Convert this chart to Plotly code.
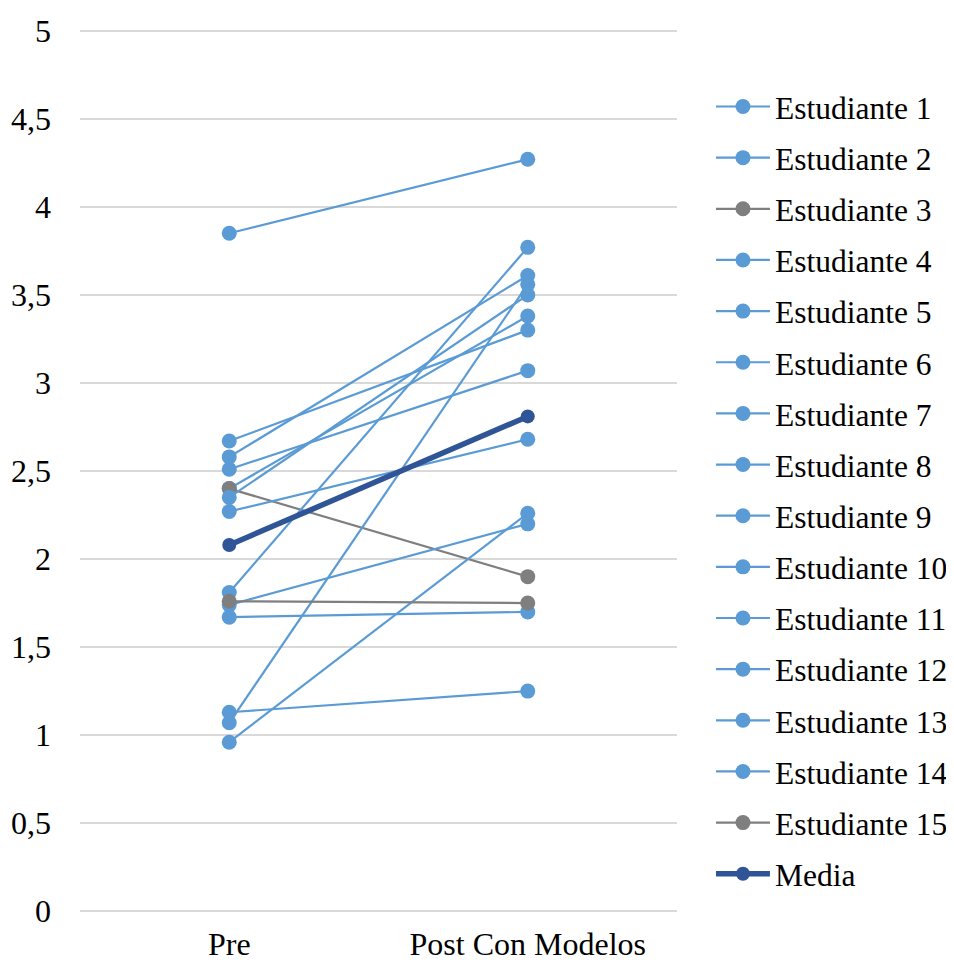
import plotly.graph_objects as go

categories = ["Pre", "Post Con Modelos"]

student_names = [f"Estudiante {i}" for i in range(1, 16)]
pre_scores = [3.85, 2.40, 2.40, 2.58, 2.67, 2.51, 2.35, 2.27, 1.81, 1.74, 1.67, 1.13, 1.07, 0.96, 1.76]
post_scores = [4.27, 3.38, 1.90, 3.61, 3.30, 3.07, 3.50, 2.68, 3.77, 2.20, 1.70, 1.25, 3.56, 2.26, 1.75]
student_colors = ["#5B9BD5", "#5B9BD5", "#7F7F7F", "#5B9BD5", "#5B9BD5", "#5B9BD5", "#5B9BD5",
                  "#5B9BD5", "#5B9BD5", "#5B9BD5", "#5B9BD5", "#5B9BD5", "#5B9BD5", "#5B9BD5", "#7F7F7F"]

media_name = "Media"
media_scores = [2.08, 2.81]
media_color = "#2F5597"

y_tick_vals = [0, 0.5, 1, 1.5, 2, 2.5, 3, 3.5, 4, 4.5, 5]
y_tick_text = ["0", "0,5", "1", "1,5", "2", "2,5", "3", "3,5", "4", "4,5", "5"]

FONT = "Liberation Serif, Times New Roman, serif"

fig = go.Figure()
for i, name in enumerate(student_names):
    fig.add_trace(go.Scatter(
        x=categories, y=[pre_scores[i], post_scores[i]], name=name,
        mode="lines+markers", legendgroup=name,
        line=dict(color=student_colors[i], width=2.2),
        marker=dict(color=student_colors[i], size=15),
    ))
fig.add_trace(go.Scatter(
    x=categories, y=media_scores, name=media_name, mode="lines+markers", legendgroup=media_name,
    line=dict(color=media_color, width=5.5),
    marker=dict(color=media_color, size=14),
))

fig.update_layout(
    width=946, height=955,
    margin=dict(l=72, r=277, t=21.24, b=50.24),
    paper_bgcolor="white", plot_bgcolor="white",
    font=dict(family=FONT, size=31, color="black"),
    showlegend=True,
    legend=dict(
        xref="container", yref="container",
        x=0.7431, xanchor="left", y=0.9251, yanchor="top",
        font=dict(family=FONT, size=31.5, color="black"),
        tracegroupgap=7.2, itemwidth=54, maxheight=950,
        bgcolor="rgba(0,0,0,0)",
    ),
    xaxis=dict(
        type="category", range=[-0.5, 1.5], showgrid=False, showline=False, zeroline=False,
        automargin=False,
        ticks="", ticklabelstandoff=9, tickfont=dict(family=FONT, size=32, color="black"),
    ),
    yaxis=dict(
        range=[-0.01, 5.01], tickvals=y_tick_vals, ticktext=y_tick_text,
        showgrid=True, gridcolor="#D9D9D9", gridwidth=1.5, zeroline=False, showline=False,
        automargin=False,
        ticks="", ticklabelstandoff=28, tickfont=dict(family=FONT, size=32, color="black"),
    ),
)

fig.write_html("out.html")
